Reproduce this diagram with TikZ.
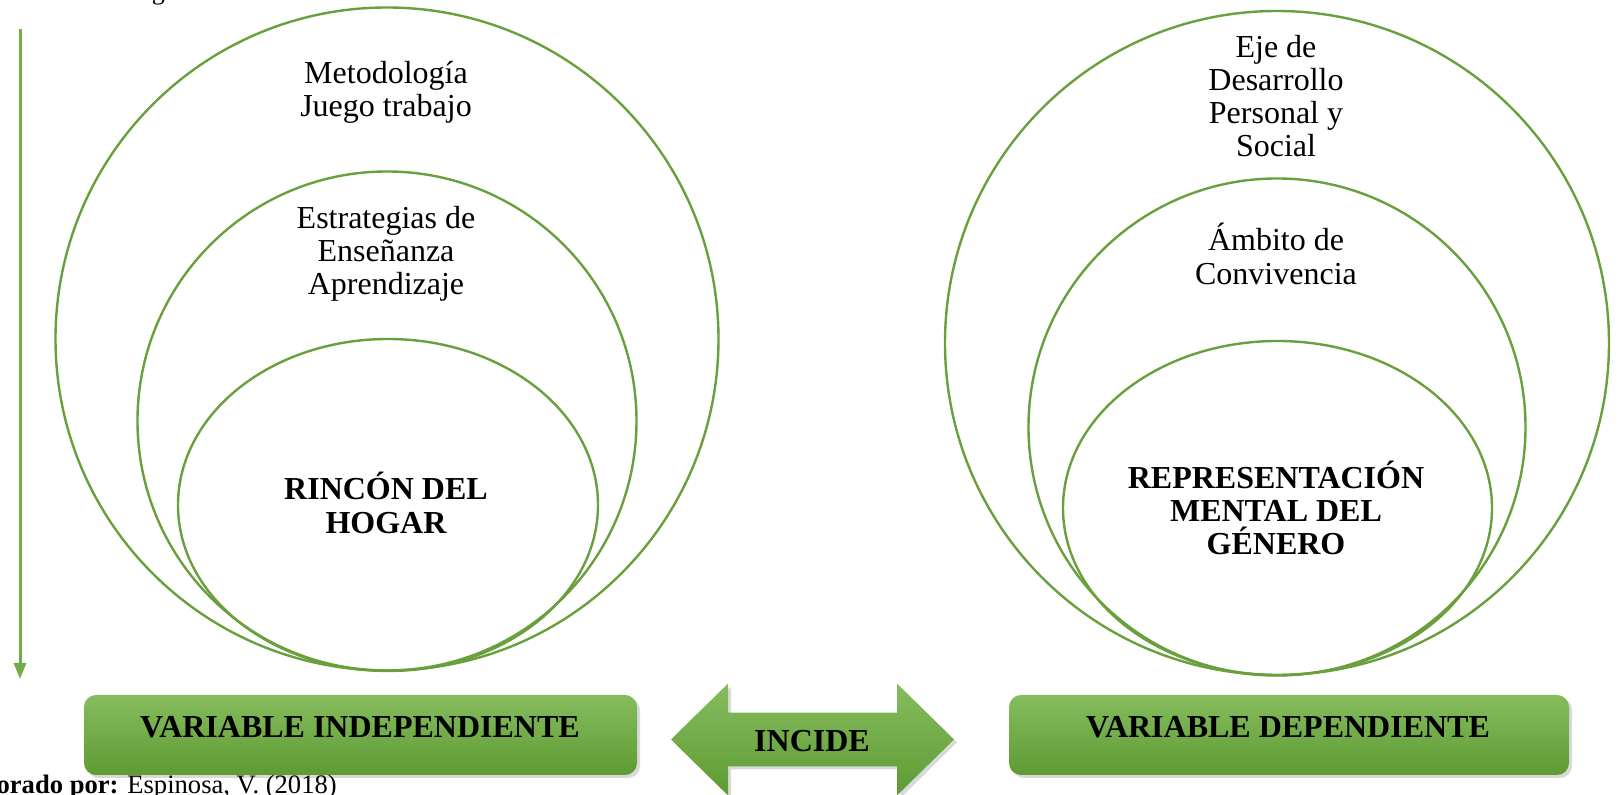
\documentclass[tikz,border=0pt]{standalone}
\usepackage{fontspec}
\setmainfont{Liberation Serif}
\usetikzlibrary{arrows.meta,shapes.geometric,shadows}
\definecolor{ringgreen}{HTML}{6A9F3E}
\definecolor{arrowgreen}{HTML}{70AD47}
\definecolor{boxtop}{HTML}{86BC5E}
\definecolor{boxbottom}{HTML}{5E9B33}
\tikzset{
	ring/.style={circle,draw=ringgreen,line width=1.2pt,inner sep=0pt},
	oval/.style={ellipse,draw=ringgreen,line width=1.2pt,inner sep=0pt},
	txt/.style={align=center,inner sep=0pt,font=\fontsize{16}{16.6}\selectfont},
	boldtxt/.style={align=center,inner sep=0pt,font=\fontsize{16}{16.6}\selectfont\bfseries},
	greenshade/.style={top color=boxtop,bottom color=boxbottom,drop shadow={shadow xshift=1.5pt,shadow yshift=-1.5pt,opacity=0.3}},
	varbox/.style={greenshade,rounded corners=6pt,minimum width=276.5pt,minimum height=40pt,inner sep=0pt},
}
\begin{document}
\begin{tikzpicture}[x=0.5pt,y=-0.5pt]
	\useasboundingbox (0,0) rectangle (1624,795);
	
	\node[anchor=base west,inner sep=0pt,font=\fontsize{13}{15}\selectfont] (title) at (-46,0) {Gráfico N° 1. Categorías fundamentales};
	
	\node[ring,minimum size=331.5pt] (L1) at (387,339) {};
	\node[ring,minimum size=249.5pt] (L2) at (387,421) {};
	\node[oval,minimum width=210pt,minimum height=166pt] (L3) at (388,505) {};
	\node[ring,minimum size=332pt] (R1) at (1277,343) {};
	\node[ring,minimum size=248.5pt] (R2) at (1277,427) {};
	\node[oval,minimum width=214.5pt,minimum height=167pt] (R3) at (1277.5,508) {};
	
	\node[txt] (met) at (386,92) {Metodología\\Juego trabajo};
	\node[txt] (est) at (386,254) {Estrategias de\\Enseñanza\\Aprendizaje};
	\node[boldtxt] (rin) at (386,503) {RINCÓN DEL\\HOGAR};
	\node[txt] (eje) at (1276,96) {Eje de\\Desarrollo\\Personal y\\Social};
	\node[txt] (amb) at (1276,254) {Ámbito de\\Convivencia};
	\node[boldtxt] (rep) at (1276,508) {REPRESENTACIÓN\\MENTAL DEL\\GÉNERO};
	
	\coordinate (top) at (20,29);
	\coordinate (bot) at (20,679);
	\draw[arrowgreen,line width=1.5pt,-{Triangle[width=6pt,length=8pt]}] (top) -- (bot);
	
	\node[varbox] (VI) at (360.5,735) {};
	\node[boldtxt] (vitxt) at (360,727) {VARIABLE INDEPENDIENTE};
	\node[varbox,minimum width=280pt] (VD) at (1289,735) {};
	\node[boldtxt] (vdtxt) at (1288,727) {VARIABLE DEPENDIENTE};
	
	\path[greenshade] (671,739.5) -- (728,683.6) -- (728,712.6) -- (897,712.6) -- (897,683.6) -- (954,739.5) -- (897,795.4) -- (897,766.4) -- (728,766.4) -- (728,795.4) -- cycle;
	\node[boldtxt] (inc) at (812,741) {INCIDE};
	
	\node[anchor=base west,inner sep=0pt,font=\fontsize{13.3}{15}\selectfont] (elab) at (-57,794) {\textbf{Elaborado por:} Espinosa, V. (2018)};
\end{tikzpicture}
\end{document}
